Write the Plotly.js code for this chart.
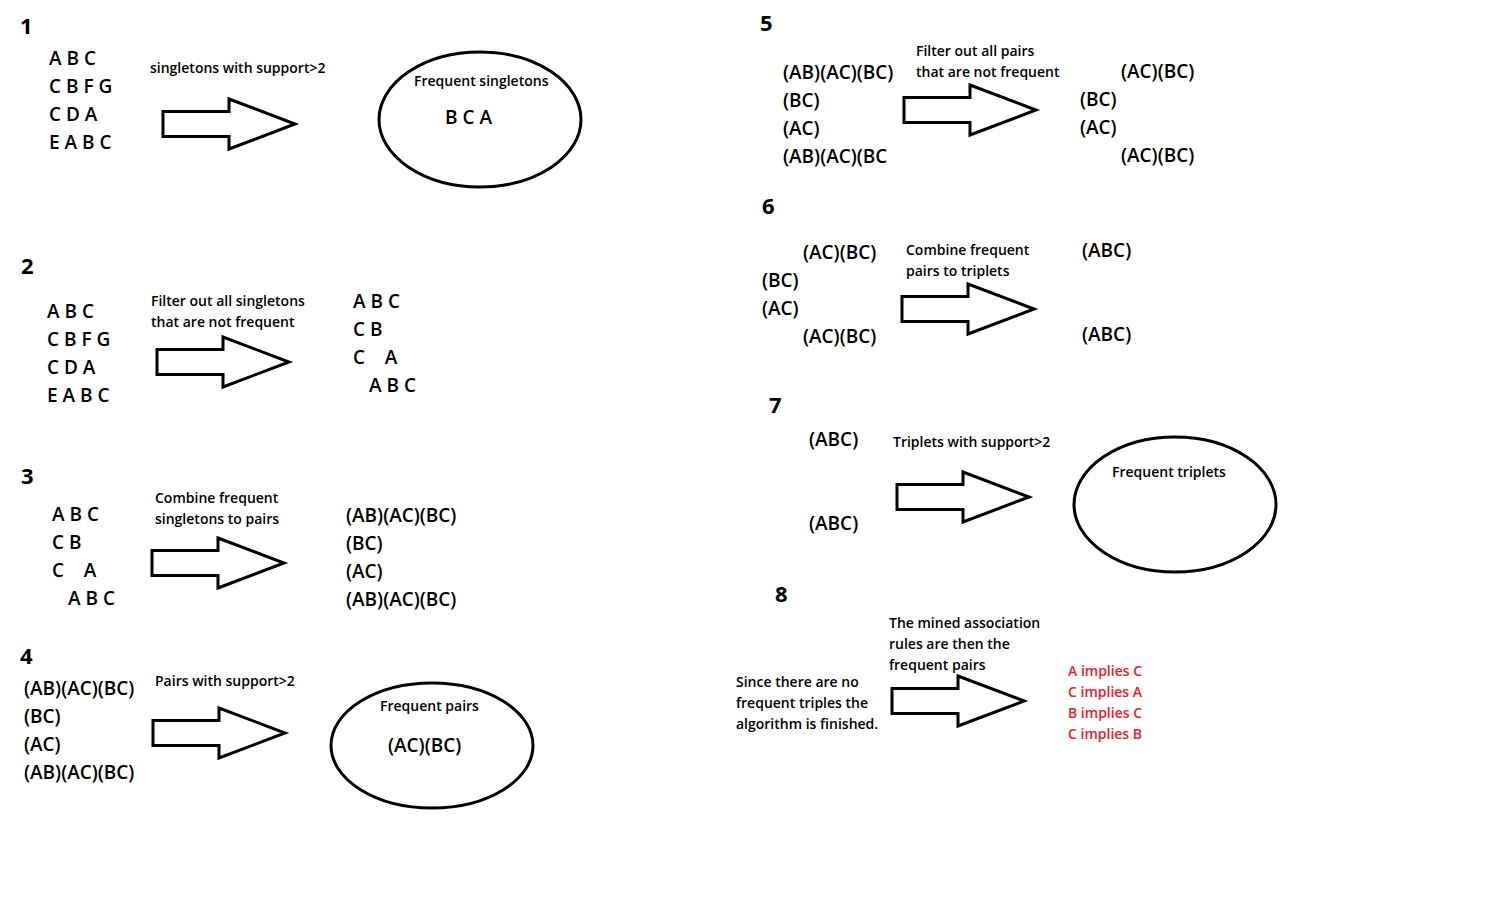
<!DOCTYPE html>
<html><head><meta charset="utf-8">
<script src="https://cdn.plot.ly/plotly-3.0.1.min.js"></script>
<style>html,body{margin:0;padding:0;background:#fff}</style>
</head><body><div id="c" style="width:1507px;height:904px"></div>
<script>
// Text content
const stepNumbers = ["1","2","3","4","5","6","7","8"];
const transactions = ["A B C","C B F G","C D A","E A B C"];
const frequentSingletonItems = ["A B C","C B","C    A","A B C"];
const pairSets = ["(AB)(AC)(BC)","(BC)","(AC)","(AB)(AC)(BC)"];
const pairSetsCut = ["(AB)(AC)(BC)","(BC)","(AC)","(AB)(AC)(BC"];
const frequentPairSets = ["(AC)(BC)","(BC)","(AC)","(AC)(BC)"];
const tripletSets = ["(ABC)","(ABC)"];
const stepLabels = [
  ["singletons with support>2"],
  ["Filter out all singletons","that are not frequent"],
  ["Combine frequent","singletons to pairs"],
  ["Pairs with support>2"],
  ["Filter out all pairs","that are not frequent"],
  ["Combine frequent","pairs to triplets"],
  ["Triplets with support>2"],
  ["The mined association","rules are then the","frequent pairs"]
];
const finishNote = ["Since there are no","frequent triples the","algorithm is finished."];
const ellipseTitles = ["Frequent singletons","Frequent pairs","Frequent triplets"];
const ellipseContents = ["B C A","(AC)(BC)",""];
const rules = ["A implies C","C implies A","B implies C","C implies B"];

const F = "Open Sans, Noto Sans, sans-serif";
const ann = [];
function t(text,x,y,size,opts={}){
  ann.push({text:text,x:x,y:y,xref:'x',yref:'y',xanchor:opts.anchor||'left',yanchor:'middle',showarrow:false,
    font:{family:F,size:size,color:opts.color||'#000',weight:opts.weight||600}});
}
function block(lines,x,y0,dy,size,xs){lines.forEach((l,i)=>t(l,(xs&&xs[i]!=null)?xs[i]:x,y0+i*dy,size));}

const numPos=[[18,25],[19,265],[19,475],[18,655],[758,22],[760,205],[767,404],[773,593]];
stepNumbers.forEach((n,i)=>t(n,numPos[i][0],numPos[i][1],22,{weight:700}));

block(transactions,47,58,28,19);
block(transactions,45,311,28,19);
block(frequentSingletonItems,351,301,28,19,[null,null,null,367]);
block(frequentSingletonItems,50,514,28,19,[null,null,null,66]);
block(pairSets,344,515,28,19);
block(pairSets,22,688,28,19);
block(pairSetsCut,781,72,28,19);
block(frequentPairSets,1078,71,28,19,[1119,null,null,1119]);
block(frequentPairSets,760,252,28,19,[801,null,null,801]);
t(tripletSets[0],1080,250,19); t(tripletSets[1],1080,334,19);
t(tripletSets[0],807,439,19); t(tripletSets[1],807,523,19);

const labPos=[[148,67],[149,300],[153,497],[153,680],[914,50],[904,249],[891,441],[887,622]];
stepLabels.forEach((ls,i)=>block(ls,labPos[i][0],labPos[i][1],21,14));
block(finishNote,734,681,21,14);

const ell=[[379,52,581,187],[331,683,533,808],[1074,437,1276,572]];
const ellTitle=[[412,80],[378,705],[1110,471]];
const ellContent=[[443,117],[386,745],null];
ellipseTitles.forEach((s,i)=>{t(s,ellTitle[i][0],ellTitle[i][1],14); if(ellipseContents[i]) t(ellipseContents[i],ellContent[i][0],ellContent[i][1],19);});
rules.forEach((r,i)=>t(r,1066,670+i*21,14,{color:'#e8202a'}));

const shapes=[];
ell.forEach(e=>shapes.push({type:'circle',xref:'x',yref:'y',x0:e[0],y0:e[1],x1:e[2],y1:e[3],line:{color:'#000',width:3}}));
const arrows=[[163,124],[157,362],[152,563],[153,733],[904,110],[902,309],[897,497],[892,701]];
arrows.forEach(a=>{
  const x=a[0],y=a[1],bl=66,bh=12.5,hl=66,hh=25;
  const p=`M${x},${y-bh} L${x+bl},${y-bh} L${x+bl},${y-hh} L${x+bl+hl},${y} L${x+bl},${y+hh} L${x+bl},${y+bh} L${x},${y+bh} Z`;
  shapes.push({type:'path',xref:'x',yref:'y',path:p,line:{color:'#000',width:3},fillcolor:'rgba(0,0,0,0)'});
});

Plotly.newPlot('c',[],{
  width:1507,height:904,margin:{l:0,r:0,t:0,b:0},paper_bgcolor:'#fff',plot_bgcolor:'#fff',
  xaxis:{range:[0,1507],visible:false,fixedrange:true},
  yaxis:{range:[904,0],visible:false,fixedrange:true},
  shapes:shapes,annotations:ann,showlegend:false
},{staticPlot:true});
</script></body></html>
